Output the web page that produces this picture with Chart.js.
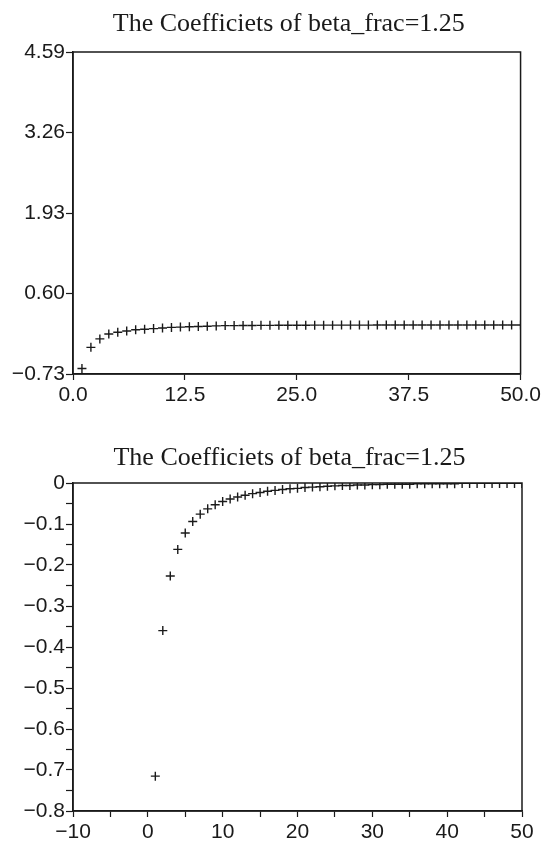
<!DOCTYPE html>
<html lang="en">
<head>
    <meta charset="UTF-8">
    <title>The Coefficiets of beta_frac=1.25</title>
    <script src="https://cdn.jsdelivr.net/npm/chart.js"></script>
    <style>
        body {
            margin: 0;
            background: #fff;
            width: 544px;
            height: 843px;
            position: relative;
            overflow: hidden;
        }
        canvas {
            position: absolute;
            left: 0;
        }
        #topChart { top: 0; }
        #bottomChart { top: 434px; }
    </style>
</head>
<body>
    <canvas id="topChart" width="544" height="420"></canvas>
    <canvas id="bottomChart" width="544" height="409"></canvas>

    <script>
        // lag index shared by both panels
        const lags = [1, 2, 3, 4, 5, 6, 7, 8, 9, 10,
            11, 12, 13, 14, 15, 16, 17, 18, 19, 20,
            21, 22, 23, 24, 25, 26, 27, 28, 29, 30,
            31, 32, 33, 34, 35, 36, 37, 38, 39, 40,
            41, 42, 43, 44, 45, 46, 47, 48, 49, 50];

        // upper panel coefficients
        const topCoef = [-0.64, -0.29, -0.15, -0.07, -0.04, -0.02, 0.00, 0.01, 0.02, 0.03,
            0.04, 0.045, 0.05, 0.055, 0.06, 0.065, 0.07, 0.07, 0.072, 0.072,
            0.074, 0.074, 0.075, 0.075, 0.076, 0.076, 0.077, 0.077, 0.077, 0.078,
            0.078, 0.078, 0.078, 0.079, 0.079, 0.079, 0.079, 0.079, 0.08, 0.08,
            0.08, 0.08, 0.08, 0.08, 0.08, 0.08, 0.08, 0.08, 0.08, 0.08];

        // lower panel coefficients
        const bottomCoef = [-0.715, -0.36, -0.227, -0.162, -0.122, -0.094, -0.076, -0.063, -0.053, -0.045,
            -0.039, -0.034, -0.030, -0.026, -0.023, -0.020, -0.018, -0.016, -0.014, -0.013,
            -0.011, -0.010, -0.009, -0.008, -0.007, -0.006, -0.006, -0.005, -0.005, -0.004,
            -0.004, -0.003, -0.003, -0.003, -0.003, -0.002, -0.002, -0.002, -0.002, -0.002,
            -0.002, -0.001, -0.001, -0.001, -0.001, -0.001, -0.001, -0.001, -0.001, -0.001];

        // tick values and labels
        const topXTicks = [0, 12.5, 25, 37.5, 50];
        const topXLabels = ['0.0', '12.5', '25.0', '37.5', '50.0'];
        const topYTicks = [-0.73, 0.60, 1.93, 3.26, 4.59];
        const topYLabels = ['\u22120.73', '0.60', '1.93', '3.26', '4.59'];

        const bottomXTicks = [-10, -5, 0, 5, 10, 15, 20, 25, 30, 35, 40, 45, 50];
        const bottomXLabels = ['\u221210', '', '0', '', '10', '', '20', '', '30', '', '40', '', '50'];
        const bottomYTicks = [-0.8, -0.75, -0.7, -0.65, -0.6, -0.55, -0.5, -0.45, -0.4,
            -0.35, -0.3, -0.25, -0.2, -0.15, -0.1, -0.05, 0];
        const bottomYLabels = ['\u22120.8', '', '\u22120.7', '', '\u22120.6', '', '\u22120.5', '', '\u22120.4',
            '', '\u22120.3', '', '\u22120.2', '', '\u22120.1', '', '0'];

        const titleText = 'The Coefficiets of beta_frac=1.25';
        const ink = '#1a1a1a';
        const tickFont = { family: "'Liberation Sans', Arial, sans-serif", size: 21 };

        // closed frame round the plot area, plus the panel title above it
        const frame = {
            id: 'frame',
            afterDraw(chart, args, opts) {
                const a = chart.chartArea;
                const ctx = chart.ctx;
                ctx.save();
                ctx.strokeStyle = ink;
                ctx.lineWidth = 1.5;
                ctx.strokeRect(a.left, a.top, a.right - a.left, a.bottom - a.top);
                ctx.fillStyle = ink;
                ctx.font = "26px 'Liberation Serif', 'Times New Roman', serif";
                ctx.textAlign = 'center';
                ctx.textBaseline = 'middle';
                ctx.fillText(titleText, (a.left + a.right) / 2 - 8, opts.titleY);
                ctx.restore();
            }
        };

        function makeChart(id, ys, opts) {
            const ctx = document.getElementById(id).getContext('2d');
            return new Chart(ctx, {
                type: 'scatter',
                data: {
                    datasets: [{
                        data: lags.map((x, i) => ({ x: x, y: ys[i] })),
                        pointStyle: 'cross',
                        pointRadius: 4.5,
                        pointBorderWidth: 1.4,
                        borderColor: ink,
                        backgroundColor: ink,
                        showLine: false
                    }]
                },
                options: {
                    responsive: false,
                    animation: false,
                    layout: { padding: { left: 0, right: 22, top: opts.plotTop, bottom: 0 } },
                    plugins: {
                        legend: { display: false },
                        tooltip: { enabled: false },
                        title: { display: false },
                        frame: { titleY: opts.titleY }
                    },
                    scales: {
                        x: {
                            type: 'linear',
                            min: opts.xMin,
                            max: opts.xMax,
                            afterBuildTicks: s => { s.ticks = opts.xTicks.map(v => ({ value: v })); },
                            afterFit: s => { s.height = opts.xHeight; },
                            grid: { drawOnChartArea: false, tickLength: 6, tickColor: ink, tickWidth: 1.2 },
                            border: { color: ink, width: 1.5 },
                            ticks: {
                                autoSkip: false,
                                maxRotation: 0,
                                padding: 3,
                                color: ink,
                                font: tickFont,
                                callback: (v, i) => opts.xLabels[i]
                            }
                        },
                        y: {
                            type: 'linear',
                            min: opts.yMin,
                            max: opts.yMax,
                            afterBuildTicks: s => { s.ticks = opts.yTicks.map(v => ({ value: v })); },
                            afterFit: s => { s.width = 73; },
                            grid: { drawOnChartArea: false, tickLength: 7, tickColor: ink, tickWidth: 1.2 },
                            border: { color: ink, width: 1.5 },
                            ticks: {
                                autoSkip: false,
                                padding: 1,
                                color: ink,
                                font: tickFont,
                                callback: (v, i) => opts.yLabels[i]
                            }
                        }
                    }
                },
                plugins: [frame]
            });
        }

        makeChart('topChart', topCoef, {
            titleY: 24, plotTop: 52,
            xMin: 0, xMax: 50, xTicks: topXTicks, xLabels: topXLabels, xHeight: 46,
            yMin: -0.73, yMax: 4.59, yTicks: topYTicks, yLabels: topYLabels
        });

        makeChart('bottomChart', bottomCoef, {
            titleY: 24, plotTop: 49,
            xMin: -10, xMax: 50, xTicks: bottomXTicks, xLabels: bottomXLabels, xHeight: 32,
            yMin: -0.8, yMax: 0, yTicks: bottomYTicks, yLabels: bottomYLabels
        });
    </script>
</body>
</html>
